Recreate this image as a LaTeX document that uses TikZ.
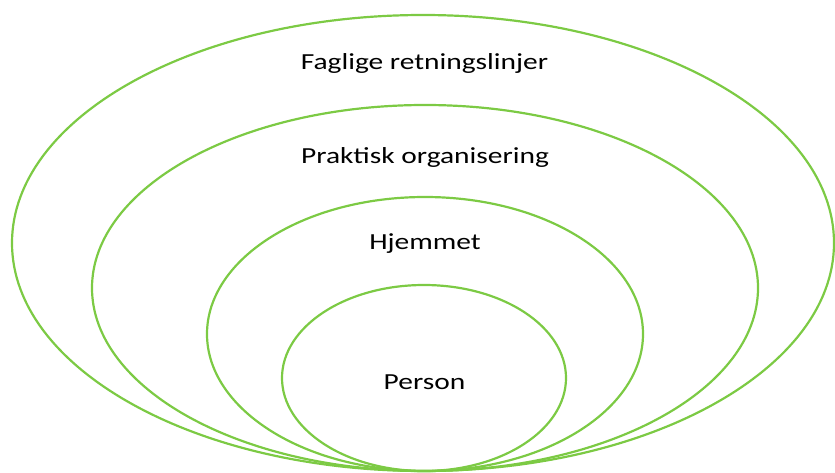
\documentclass[tikz,border=0pt]{standalone}
\usepackage{fontspec}
\setmainfont{Carlito}
\usetikzlibrary{positioning}

\definecolor{ringgreen}{RGB}{124,202,68}
\newcommand{\widetext}[1]{\scalebox{1.28}[1]{#1}}
\tikzset{
  ring/.style={draw=ringgreen, line width=2.2pt},
  ringlabel/.style={font=\fontsize{23}{27}\selectfont, text=black, inner sep=0pt, anchor=base}
}

\begin{document}
\begin{tikzpicture}[x=1pt, y=-1pt]
\useasboundingbox (0,0) rectangle (835,473);

% rings, all touching at the bottom
\draw[ring] (423,243) ellipse (411 and 228);
\draw[ring] (425,288) ellipse (333 and 183);
\draw[ring] (425,334) ellipse (218 and 137);
\draw[ring] (424,378) ellipse (142 and 93);

\node[ringlabel] (faglige) at (424.5,69.5) {\widetext{Faglige retningslinjer}};
\node[ringlabel] (praktisk) at (425,163.5) {\widetext{Praktisk organisering}};
\node[ringlabel] (hjemmet) at (425,249.5) {\widetext{Hjemmet}};
\node[ringlabel] (person) at (424.5,389.5) {\widetext{Person}};
\end{tikzpicture}
\end{document}
